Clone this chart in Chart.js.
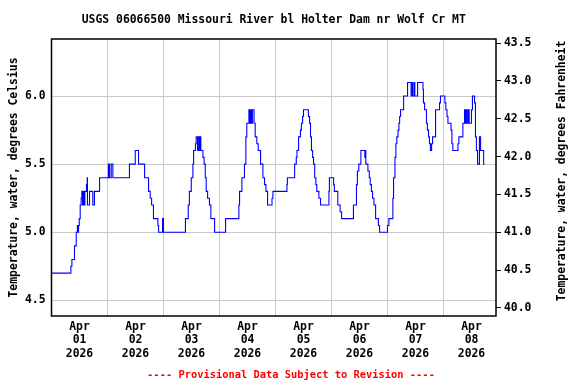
<!DOCTYPE html>
<html>
<head>
<meta charset="utf-8">
<script src="https://cdn.jsdelivr.net/npm/chart.js@4"></script>
<style>
  html, body { margin: 0; background: #fff; }
  #wrap { width: 576px; height: 384px; }
</style>
</head>
<body>
<div id="wrap"><canvas id="chart"></canvas></div>
<script>
// ── DATA (hours since Apr 01 00:00, value starts at that hour) ──
const stepHours = [
  0, 8.3, 8.75, 9.85, 10.6, 11.1, 11.4, 11.6, 11.9, 12.3,
  12.7, 13.0, 13.3, 13.6, 14.0, 14.3, 15.0, 15.3, 15.4, 16.3,
  17.7, 18.4, 20.6, 24.4, 24.9, 25.6, 26.3, 33.4, 35.9, 37.3,
  39.9, 41.6, 42.3, 42.9, 43.7, 45.6, 45.9, 47.6, 48.0, 57.4,
  58.6, 59.1, 59.9, 60.6, 60.9, 61.7, 62.0, 62.6, 62.9, 63.4,
  63.7, 64.0, 64.9, 65.4, 65.9, 66.3, 66.9, 67.7, 68.3, 69.9,
  74.6, 80.3, 80.6, 81.6, 82.7, 83.3, 83.7, 84.6, 85.0, 85.3,
  85.7, 86.1, 86.8, 87.3, 88.0, 88.6, 89.6, 90.6, 91.3, 91.9,
  92.6, 94.5, 94.9, 100.9, 101.1, 104.2, 104.9, 105.2, 105.9, 106.7,
  107.1, 107.6, 108.0, 110.1, 110.6, 111.0, 111.4, 111.9, 112.3, 112.8,
  113.3, 113.7, 114.6, 115.3, 118.9, 119.1, 120.9, 121.2, 122.7, 123.7,
  124.3, 129.4, 130.7, 131.1, 131.7, 132.6, 134.3, 134.6, 134.7, 135.6,
  136.2, 136.6, 137.1, 137.6, 138.2, 138.9, 140.1, 140.6, 144.0, 144.6,
  146.3, 146.6, 147.2, 147.6, 148.0, 148.5, 148.9, 149.2, 149.6, 150.9,
  152.6, 154.1, 154.6, 154.9, 155.5, 155.7, 156.9, 159.2, 159.4, 159.9,
  160.7, 161.1, 161.6, 162.0, 162.4, 162.9, 163.3, 164.6, 166.3, 166.7,
  168.6, 169.0, 169.5, 169.9, 171.2, 171.6, 172.0, 174.2, 174.6, 176.3,
  177.0, 177.4, 177.9, 178.2, 178.7, 179.0, 180.0, 180.4, 181.3, 181.7,
  182.1, 182.6, 183.4, 183.9, 185.2, 185.5
];
const tempC = [
  4.70, 4.75, 4.80, 4.90, 5.00, 5.05, 5.00, 5.05, 5.10, 5.20,
  5.25, 5.30, 5.20, 5.30, 5.20, 5.30, 5.35, 5.40, 5.20, 5.30,
  5.20, 5.30, 5.40, 5.50, 5.40, 5.50, 5.40, 5.50, 5.60, 5.50,
  5.40, 5.30, 5.25, 5.20, 5.10, 5.05, 5.00, 5.10, 5.00, 5.10,
  5.20, 5.30, 5.40, 5.50, 5.60, 5.65, 5.70, 5.60, 5.70, 5.60,
  5.70, 5.60, 5.55, 5.50, 5.40, 5.30, 5.25, 5.20, 5.10, 5.00,
  5.10, 5.20, 5.30, 5.40, 5.50, 5.70, 5.80, 5.90, 5.80, 5.90,
  5.80, 5.90, 5.80, 5.70, 5.65, 5.60, 5.50, 5.40, 5.35, 5.30,
  5.20, 5.25, 5.30, 5.35, 5.40, 5.50, 5.55, 5.60, 5.70, 5.75,
  5.80, 5.85, 5.90, 5.85, 5.80, 5.70, 5.60, 5.55, 5.50, 5.40,
  5.35, 5.30, 5.25, 5.20, 5.30, 5.40, 5.35, 5.30, 5.20, 5.15,
  5.10, 5.20, 5.35, 5.45, 5.50, 5.60, 5.55, 5.60, 5.50, 5.45,
  5.40, 5.35, 5.30, 5.25, 5.20, 5.10, 5.05, 5.00, 5.05, 5.10,
  5.25, 5.40, 5.55, 5.65, 5.70, 5.75, 5.80, 5.85, 5.90, 6.00,
  6.10, 6.00, 6.10, 6.00, 6.10, 6.00, 6.10, 6.05, 5.95, 5.90,
  5.80, 5.75, 5.70, 5.65, 5.60, 5.65, 5.70, 5.90, 5.95, 6.00,
  5.95, 5.90, 5.85, 5.80, 5.75, 5.65, 5.60, 5.65, 5.70, 5.80,
  5.90, 5.80, 5.90, 5.80, 5.90, 5.80, 5.90, 6.00, 5.95, 5.70,
  5.60, 5.50, 5.70, 5.60, 5.50, 5.50
];

// ── TICKS & TEXT ──
const dayMonths = ['Apr', 'Apr', 'Apr', 'Apr', 'Apr', 'Apr', 'Apr', 'Apr'];
const dayNums   = ['01', '02', '03', '04', '05', '06', '07', '08'];
const dayYears  = ['2026', '2026', '2026', '2026', '2026', '2026', '2026', '2026'];
const celsiusTicks    = [4.5, 5.0, 5.5, 6.0];
const fahrenheitTicks = [40.0, 40.5, 41.0, 41.5, 42.0, 42.5, 43.0, 43.5];
const cMin = 4.385, cMax = 6.419;
const hourMax = 190.5;
const titleText  = 'USGS 06066500 Missouri River bl Holter Dam nr Wolf Cr MT';
const footerText = '---- Provisional Data Subject to Revision ----';
const rightTitle = 'Temperature, water, degrees Fahrenheit';

const toF = c => c * 1.8 + 32;
const fontFamily = 'DejaVu Sans Mono';
const font = { family: fontFamily, size: 11.4, weight: 'bold' };
const gridGrey = '#c8c8c8';

// ── BORDER + TEXTS not handled by axes ──
const decorations = {
  id: 'decorations',
  afterDatasetsDraw(chart) {
    const { ctx, chartArea: a } = chart;
    ctx.save();
    ctx.strokeStyle = '#000';
    ctx.lineWidth = 1.5;
    ctx.strokeRect(a.left, a.top, a.right - a.left, a.bottom - a.top);

    ctx.textAlign = 'center';
    ctx.textBaseline = 'middle';
    ctx.fillStyle = '#000';
    ctx.font = `bold 11.4px "${fontFamily}"`;
    ctx.fillText(titleText, (a.left + a.right) / 2, 20);

    ctx.fillStyle = '#ff0000';
    ctx.font = `bold 10.4px "${fontFamily}"`;
    ctx.fillText(footerText, 291, 375);

    ctx.fillStyle = '#000';
    ctx.font = `bold 11.4px "${fontFamily}"`;
    ctx.translate(562, 171);
    ctx.rotate(-Math.PI / 2);
    ctx.fillText(rightTitle, 0, 0);
    ctx.restore();
  }
};

new Chart(document.getElementById('chart'), {
  type: 'line',
  data: {
    datasets: [{
      data: stepHours.map((h, i) => ({ x: h, y: tempC[i] })),
      borderColor: '#0000ff',
      borderWidth: 1.1,
      pointRadius: 0,
      stepped: true,
      fill: false,
      xAxisID: 'x',
      yAxisID: 'y'
    }]
  },
  options: {
    responsive: true,
    maintainAspectRatio: false,
    animation: false,
    layout: { padding: { top: 39, bottom: 16, left: 0, right: 0 } },
    plugins: {
      legend: { display: false },
      tooltip: { enabled: false }
    },
    scales: {
      x: {
        type: 'linear',
        min: 0,
        max: hourMax,
        afterBuildTicks: axis => {
          axis.ticks = [];
          for (let h = 0; h <= 180; h += 12) axis.ticks.push({ value: h });
        },
        afterFit: s => { s.height = 52; },
        border: { display: false },
        grid: {
          drawTicks: false,
          color: ctx => (ctx.tick && ctx.tick.value % 24 === 0) ? gridGrey : 'rgba(0,0,0,0)'
        },
        ticks: {
          autoSkip: false,
          maxRotation: 0,
          padding: 4,
          color: '#000',
          font: font,
          callback: v => {
            if (v % 24 !== 12) return '';
            const d = (v - 12) / 24;
            return [dayMonths[d], dayNums[d], dayYears[d]];
          }
        }
      },
      y: {
        position: 'left',
        min: cMin,
        max: cMax,
        afterBuildTicks: axis => { axis.ticks = celsiusTicks.map(v => ({ value: v })); },
        afterFit: s => { s.width = 51.5; },
        border: { display: false },
        grid: { color: gridGrey, drawTicks: false },
        ticks: { padding: 6, color: '#000', font: font, callback: v => v.toFixed(1) },
        title: {
          display: true,
          text: 'Temperature, water, degrees Celsius',
          color: '#000',
          font: font,
          padding: { top: 7, bottom: 0 }
        }
      },
      y2: {
        position: 'right',
        min: toF(cMin),
        max: toF(cMax),
        afterBuildTicks: axis => { axis.ticks = fahrenheitTicks.map(v => ({ value: v })); },
        afterFit: s => { s.width = 80; },
        border: { display: false },
        grid: { drawOnChartArea: false, drawTicks: true, tickLength: 5, color: '#000' },
        ticks: { padding: 3, color: '#000', font: font, callback: v => v.toFixed(1) }
      }
    }
  },
  plugins: [decorations]
});
</script>
</body>
</html>
